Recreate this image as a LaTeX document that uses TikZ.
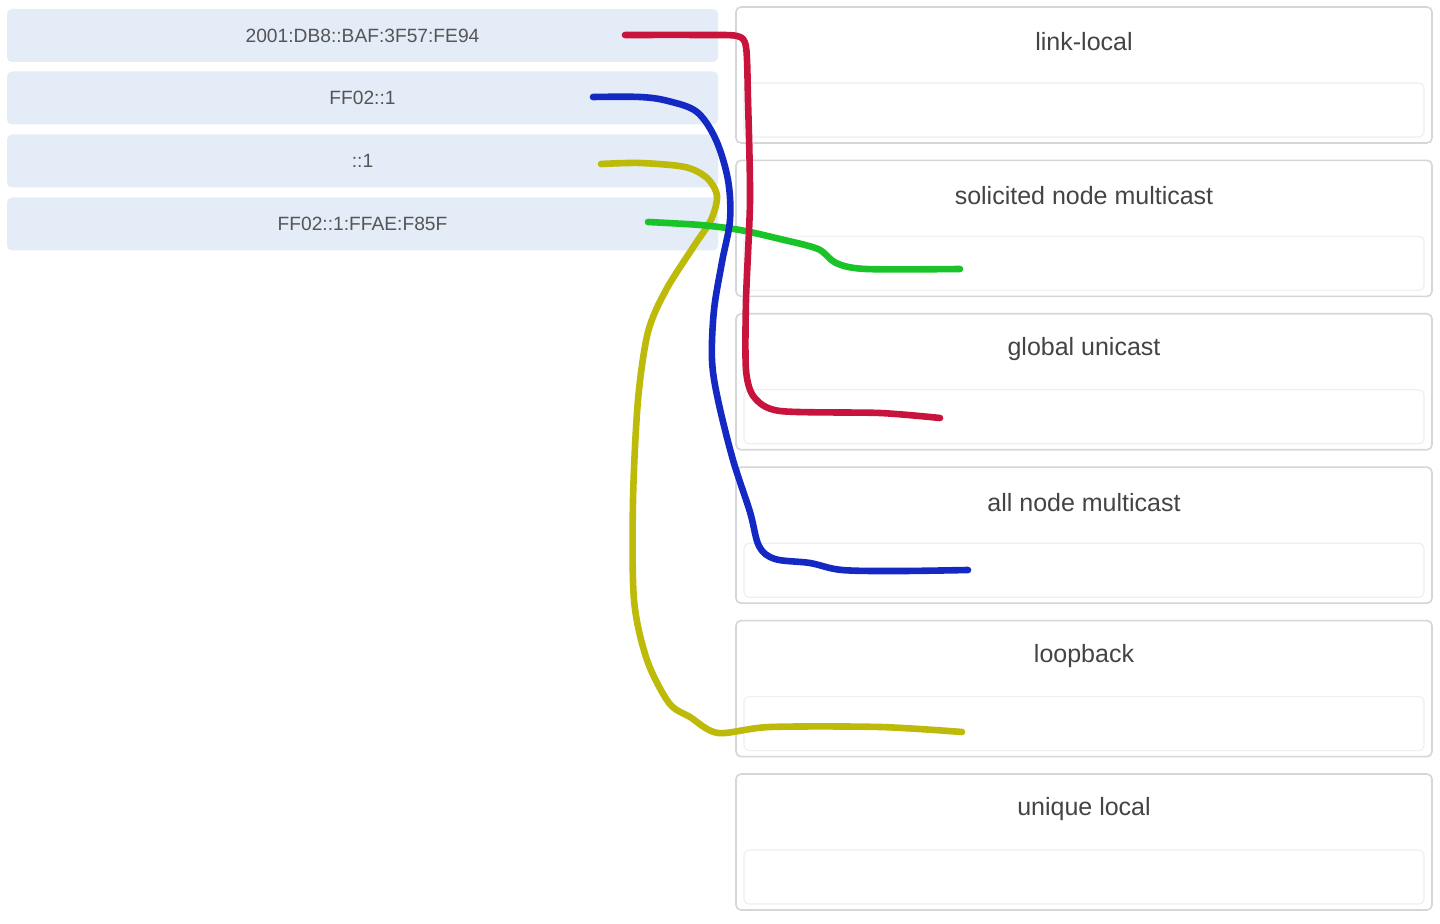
\documentclass[tikz,border=0pt]{standalone}
\usepackage{fontspec}
\setmainfont{Liberation Sans}
\begin{document}
\begin{tikzpicture}[x=0.5pt,y=-0.5pt,
  srcbox/.style={rectangle, rounded corners=2.5pt, fill=srcfill, draw=none,
    minimum width=355.5pt, minimum height=26.5pt, inner sep=0pt,
    font=\fontsize{9.6}{11}\selectfont, text=srctext},
  catbox/.style={rectangle, rounded corners=2.5pt, draw=catborder, line width=0.8pt, fill=white,
    minimum width=348pt, minimum height=68pt, inner sep=0pt},
  droparea/.style={rectangle, rounded corners=2.5pt, draw=dropborder, line width=0.6pt,
    minimum width=340pt, minimum height=27pt, inner sep=0pt},
  cattitle/.style={font=\fontsize{12.5}{14}\selectfont, text=titletext, inner sep=0pt},
  wire/.style={line width=3.3pt, line cap=round, line join=round}
]
\definecolor{srcfill}{HTML}{E4ECF7}
\definecolor{srctext}{HTML}{555555}
\definecolor{catborder}{HTML}{D4D6DA}
\definecolor{dropborder}{HTML}{EEEFF2}
\definecolor{titletext}{HTML}{444444}
\definecolor{wred}{HTML}{C8143C}
\definecolor{wblue}{HTML}{1428C4}
\definecolor{wyellow}{HTML}{BDBA0A}
\definecolor{wgreen}{HTML}{18C428}

\useasboundingbox[fill=white] (0,0) rectangle (1440,924);

% left source boxes
\node[srcbox] (s1) at (362.5,35.5) {2001:DB8::BAF:3F57:FE94};
\node[srcbox] (s2) at (362.5,98) {FF02::1};
\node[srcbox] (s3) at (362.5,161) {::1};
\node[srcbox] (s4) at (362.5,224) {FF02::1:FFAE:F85F};

% right category boxes
\foreach \i/\t/\name in {0/link-local/c1, 1/solicited node multicast/c2, 2/global unicast/c3,
                        3/all node multicast/c4, 4/loopback/c5, 5/unique local/c6}{
  \pgfmathsetmacro{\top}{7+153.4*\i}
  \node[catbox] (\name) at (1084,\top+68) {};
  \node[cattitle] (\name t) at (1084,\top+35) {\t};
  \node[droparea] (\name d) at (1084,\top+103) {};
}

% connector end points
\coordinate (rs) at (625,35);
\coordinate (re) at (940,418);
\coordinate (bs) at (593,97);
\coordinate (be) at (968,570);
\coordinate (ys) at (601,164);
\coordinate (ye) at (962,732);
\coordinate (gs) at (648,222);
\coordinate (ge) at (960,269);

% yellow: ::1 -> loopback
\draw[wire, wyellow] plot[smooth, tension=0.5] coordinates {(ys) (640,163) (685,167) (707,178) (717,196) (711,220) (694,246) (666,290) (648,332) (638,400) (633,500) (634,600) (647,660) (669,703) (690,717) (718,733) (770,727) (880,727) (ye)};

% green: FF02::1:FFAE:F85F -> solicited node multicast
\draw[wire, wgreen] plot[smooth, tension=0.5] coordinates {(gs) (700,225) (740,230) (780,239) (818,249) (836,263) (866,269) (ge)};

% blue: FF02::1 -> all node multicast
\draw[wire, wblue] plot[smooth, tension=0.55] coordinates {(bs) (640,97) (668,101) (697,112) (716,140) (728,180) (730,220) (722,262) (714,310) (712,360) (718,400) (733,460) (750,512) (759,546) (775,559) (810,563) (842,570) (900,571) (be)};

% red: 2001:DB8::BAF:3F57:FE94 -> global unicast
\draw[wire, wred] plot[smooth, tension=0.45] coordinates {(rs) (700,35) (737,36) (746,47) (748,100) (750,200) (746,300) (746,370) (754,397) (780,411) (880,413) (re)};
\end{tikzpicture}
\end{document}
